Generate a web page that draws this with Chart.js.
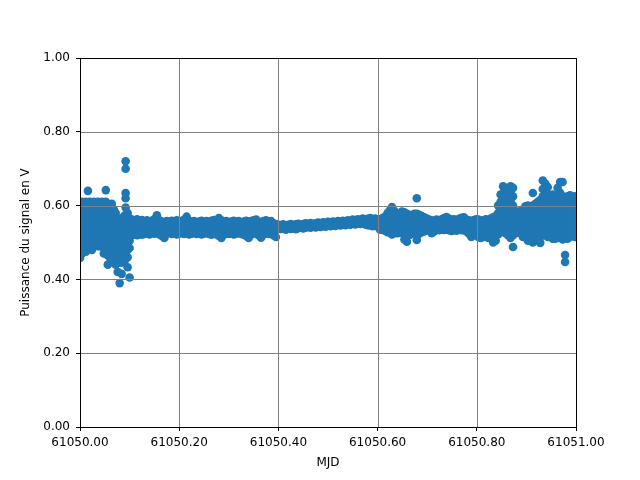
<!DOCTYPE html>
<html>
<head>
<meta charset="utf-8">
<script src="https://cdn.jsdelivr.net/npm/chart.js"></script>
<style>
  body { margin: 0; background: #fff; }
  canvas { display: block; }
</style>
</head>
<body>
<canvas id="signalChart" width="640" height="480"></canvas>
<script>
// MJD de référence, chaque ligne = [fraction de jour, tensions mesurées...]
const mjdStart = 61050;
const xTicks = [61050.0, 61050.2, 61050.4, 61050.6, 61050.8, 61051.0];
const yTicks = [0, 0.2, 0.4, 0.6, 0.8, 1.0];

// début de nuit : signal très dispersé
const burstStart = [
    [0.000, 0.605, 0.585, 0.565, 0.545, 0.525, 0.505, 0.485, 0.465, 0.458],
    [0.004, 0.61, 0.59, 0.57, 0.55, 0.53, 0.51, 0.49, 0.47],
    [0.008, 0.605, 0.585, 0.565, 0.545, 0.525, 0.505, 0.485],
    [0.012, 0.61, 0.59, 0.57, 0.55, 0.53, 0.51, 0.49, 0.475],
    [0.016, 0.64, 0.60, 0.58, 0.56, 0.54, 0.52, 0.50, 0.485],
    [0.020, 0.61, 0.59, 0.57, 0.55, 0.53, 0.51, 0.49],
    [0.024, 0.605, 0.585, 0.565, 0.545, 0.525, 0.505, 0.48],
    [0.028, 0.61, 0.59, 0.57, 0.55, 0.53, 0.51, 0.49],
    [0.032, 0.605, 0.585, 0.565, 0.545, 0.525, 0.505],
    [0.036, 0.61, 0.59, 0.57, 0.55, 0.53, 0.51, 0.49],
    [0.040, 0.605, 0.585, 0.565, 0.545, 0.525, 0.505, 0.49],
    [0.044, 0.61, 0.59, 0.57, 0.55, 0.53, 0.51, 0.49],
    [0.048, 0.605, 0.585, 0.565, 0.545, 0.525, 0.505, 0.485, 0.47],
    [0.052, 0.642, 0.61, 0.59, 0.57, 0.55, 0.53, 0.51, 0.49, 0.47],
    [0.056, 0.605, 0.585, 0.565, 0.545, 0.525, 0.505, 0.485, 0.465, 0.44],
    [0.060, 0.60, 0.58, 0.56, 0.54, 0.52, 0.50, 0.48, 0.46],
    [0.064, 0.605, 0.585, 0.565, 0.545, 0.525, 0.505, 0.485, 0.465],
    [0.068, 0.59, 0.57, 0.55, 0.53, 0.51, 0.49, 0.47, 0.45],
    [0.072, 0.58, 0.56, 0.54, 0.52, 0.50, 0.48, 0.46, 0.44],
    [0.076, 0.565, 0.545, 0.525, 0.505, 0.485, 0.465, 0.445, 0.42],
    [0.080, 0.555, 0.535, 0.515, 0.495, 0.475, 0.455, 0.39],
    [0.084, 0.565, 0.545, 0.525, 0.505, 0.485, 0.465, 0.445, 0.415],
    [0.088, 0.57, 0.55, 0.53, 0.51, 0.49, 0.47, 0.45],
    [0.092, 0.72, 0.70, 0.634, 0.62, 0.595, 0.575, 0.555, 0.535, 0.515, 0.495, 0.475, 0.455],
    [0.096, 0.58, 0.56, 0.54, 0.52, 0.50, 0.48, 0.46, 0.433],
    [0.100, 0.565, 0.545, 0.525, 0.505, 0.485, 0.405]
];

// bande stable du matin
const morningBand = [
    [0.105, 0.562, 0.540, 0.520], [0.110, 0.560, 0.540, 0.522], [0.115, 0.563, 0.542, 0.520],
    [0.120, 0.558, 0.538, 0.524], [0.125, 0.561, 0.541, 0.521], [0.130, 0.557, 0.539, 0.523],
    [0.135, 0.560, 0.540, 0.525], [0.140, 0.556, 0.538, 0.522], [0.145, 0.559, 0.541, 0.526],
    [0.150, 0.563, 0.542, 0.524], [0.155, 0.574, 0.545, 0.527], [0.160, 0.560, 0.540, 0.522],
    [0.165, 0.557, 0.538, 0.518], [0.170, 0.555, 0.537, 0.512], [0.175, 0.558, 0.540, 0.524],
    [0.180, 0.556, 0.539, 0.526], [0.185, 0.559, 0.541, 0.523], [0.190, 0.557, 0.540, 0.525],
    [0.195, 0.560, 0.541, 0.522], [0.200, 0.558, 0.539, 0.524], [0.205, 0.556, 0.538, 0.526],
    [0.210, 0.562, 0.542, 0.523], [0.215, 0.570, 0.545, 0.525], [0.220, 0.559, 0.540, 0.522],
    [0.225, 0.556, 0.538, 0.524], [0.230, 0.558, 0.540, 0.526], [0.235, 0.555, 0.537, 0.523],
    [0.240, 0.557, 0.539, 0.525], [0.245, 0.559, 0.541, 0.522], [0.250, 0.556, 0.538, 0.524],
    [0.255, 0.558, 0.540, 0.526], [0.260, 0.555, 0.538, 0.523], [0.265, 0.559, 0.540, 0.521],
    [0.270, 0.561, 0.541, 0.524], [0.275, 0.557, 0.539, 0.522], [0.280, 0.566, 0.543, 0.518],
    [0.285, 0.560, 0.538, 0.512], [0.290, 0.556, 0.538, 0.521], [0.295, 0.558, 0.540, 0.524],
    [0.300, 0.555, 0.538, 0.523], [0.305, 0.557, 0.539, 0.525], [0.310, 0.559, 0.541, 0.522],
    [0.315, 0.556, 0.538, 0.524], [0.320, 0.558, 0.540, 0.526], [0.325, 0.555, 0.538, 0.523],
    [0.330, 0.557, 0.539, 0.521], [0.335, 0.559, 0.540, 0.518], [0.340, 0.556, 0.537, 0.512],
    [0.345, 0.558, 0.540, 0.521], [0.350, 0.560, 0.541, 0.524], [0.355, 0.562, 0.542, 0.525],
    [0.360, 0.557, 0.539, 0.520], [0.365, 0.555, 0.536, 0.513], [0.370, 0.558, 0.540, 0.522],
    [0.375, 0.560, 0.541, 0.525], [0.380, 0.556, 0.539, 0.523], [0.385, 0.558, 0.540, 0.526],
    [0.390, 0.552, 0.536, 0.520], [0.395, 0.550, 0.534, 0.515], [0.400, 0.548, 0.537]
];

// milieu de journée : bande étroite qui monte lentement
const noonBand = [
    [0.405, 0.547, 0.537], [0.410, 0.549, 0.538], [0.415, 0.545, 0.535], [0.420, 0.548, 0.540],
    [0.425, 0.550, 0.537], [0.430, 0.546, 0.539], [0.435, 0.549, 0.536], [0.440, 0.551, 0.539],
    [0.445, 0.547, 0.541], [0.450, 0.550, 0.538], [0.455, 0.552, 0.540], [0.460, 0.550, 0.542],
    [0.465, 0.553, 0.540], [0.470, 0.549, 0.543], [0.475, 0.552, 0.541], [0.480, 0.554, 0.544],
    [0.485, 0.551, 0.542], [0.490, 0.555, 0.545], [0.495, 0.553, 0.543], [0.500, 0.556, 0.546],
    [0.505, 0.554, 0.544], [0.510, 0.557, 0.547], [0.515, 0.555, 0.545], [0.520, 0.558, 0.548],
    [0.525, 0.556, 0.546], [0.530, 0.559, 0.549], [0.535, 0.557, 0.547], [0.540, 0.560, 0.550],
    [0.545, 0.558, 0.548], [0.550, 0.562, 0.551], [0.555, 0.560, 0.549], [0.560, 0.563, 0.552],
    [0.565, 0.561, 0.550], [0.570, 0.565, 0.552], [0.575, 0.562, 0.549], [0.580, 0.564, 0.547],
    [0.585, 0.566, 0.546], [0.590, 0.562, 0.544], [0.595, 0.565, 0.548], [0.600, 0.563, 0.543]
];

// après-midi : quelques sauts
const afternoonBurst = [
    [0.605, 0.563, 0.545, 0.535],
    [0.610, 0.566, 0.550, 0.534],
    [0.615, 0.570, 0.552, 0.532],
    [0.620, 0.580, 0.560, 0.540, 0.528],
    [0.625, 0.588, 0.568, 0.548, 0.530],
    [0.629, 0.596, 0.575, 0.555, 0.535, 0.522],
    [0.634, 0.585, 0.565, 0.545, 0.528],
    [0.639, 0.575, 0.557, 0.540, 0.525],
    [0.644, 0.578, 0.560, 0.542, 0.526],
    [0.649, 0.584, 0.565, 0.545, 0.528],
    [0.654, 0.582, 0.562, 0.542, 0.522, 0.508],
    [0.659, 0.578, 0.558, 0.538, 0.518, 0.502],
    [0.664, 0.575, 0.556, 0.537, 0.520],
    [0.669, 0.572, 0.555, 0.538, 0.525],
    [0.674, 0.578, 0.558, 0.540, 0.530],
    [0.679, 0.620, 0.578, 0.558, 0.540, 0.520, 0.507],
    [0.684, 0.575, 0.556, 0.538, 0.524],
    [0.689, 0.572, 0.555, 0.540, 0.528],
    [0.694, 0.568, 0.552, 0.538, 0.530],
    [0.699, 0.565, 0.550, 0.536]
];

// soirée
const eveningBand = [
    [0.704, 0.562, 0.548, 0.532], [0.709, 0.560, 0.545, 0.525], [0.714, 0.558, 0.543, 0.530],
    [0.719, 0.562, 0.547, 0.535], [0.724, 0.560, 0.546, 0.533], [0.729, 0.563, 0.548, 0.536],
    [0.734, 0.566, 0.550, 0.534], [0.739, 0.569, 0.551, 0.535], [0.744, 0.565, 0.549, 0.533],
    [0.749, 0.561, 0.546, 0.531], [0.754, 0.563, 0.548, 0.534], [0.759, 0.560, 0.545, 0.532],
    [0.764, 0.564, 0.548, 0.535], [0.769, 0.567, 0.550, 0.533], [0.774, 0.568, 0.551, 0.534],
    [0.779, 0.562, 0.546, 0.530], [0.784, 0.560, 0.544, 0.524], [0.789, 0.558, 0.540, 0.515],
    [0.794, 0.561, 0.545, 0.526], [0.799, 0.563, 0.546, 0.530]
];

// fin de journée : forte dispersion
const lateBurst = [
    [0.803, 0.562, 0.545, 0.528, 0.515],
    [0.808, 0.558, 0.542, 0.525, 0.512],
    [0.813, 0.560, 0.545, 0.530, 0.515],
    [0.818, 0.563, 0.547, 0.532, 0.518],
    [0.823, 0.560, 0.544, 0.528, 0.512],
    [0.828, 0.565, 0.548, 0.530, 0.515],
    [0.833, 0.568, 0.550, 0.532, 0.515, 0.500],
    [0.838, 0.572, 0.555, 0.538, 0.52, 0.505],
    [0.843, 0.60, 0.58, 0.56, 0.54, 0.522],
    [0.848, 0.63, 0.61, 0.59, 0.57, 0.55, 0.53],
    [0.853, 0.652, 0.632, 0.612, 0.592, 0.572, 0.552, 0.532],
    [0.858, 0.645, 0.625, 0.605, 0.585, 0.565, 0.545, 0.525],
    [0.863, 0.64, 0.62, 0.60, 0.58, 0.56, 0.54, 0.52],
    [0.868, 0.652, 0.632, 0.612, 0.592, 0.572, 0.552, 0.532, 0.512],
    [0.873, 0.648, 0.625, 0.60, 0.58, 0.56, 0.54, 0.52, 0.488],
    [0.878, 0.585, 0.565, 0.545, 0.525],
    [0.883, 0.580, 0.562, 0.545, 0.528],
    [0.888, 0.585, 0.565, 0.545, 0.525],
    [0.893, 0.590, 0.570, 0.550, 0.530, 0.515],
    [0.898, 0.598, 0.578, 0.558, 0.538, 0.52],
    [0.903, 0.600, 0.580, 0.560, 0.540, 0.52, 0.505],
    [0.908, 0.595, 0.575, 0.555, 0.535, 0.515],
    [0.913, 0.634, 0.60, 0.58, 0.56, 0.54, 0.52, 0.50],
    [0.918, 0.605, 0.585, 0.565, 0.545, 0.525, 0.505],
    [0.923, 0.610, 0.59, 0.57, 0.55, 0.53, 0.51],
    [0.928, 0.615, 0.595, 0.575, 0.555, 0.535, 0.515, 0.499],
    [0.933, 0.668, 0.645, 0.625, 0.605, 0.585, 0.565, 0.545, 0.525],
    [0.938, 0.660, 0.64, 0.62, 0.60, 0.58, 0.56, 0.54, 0.52],
    [0.943, 0.650, 0.63, 0.61, 0.59, 0.57, 0.55, 0.53, 0.515],
    [0.948, 0.625, 0.605, 0.585, 0.565, 0.545, 0.525],
    [0.953, 0.630, 0.61, 0.59, 0.57, 0.55, 0.53, 0.51],
    [0.958, 0.625, 0.605, 0.585, 0.565, 0.545, 0.525, 0.51],
    [0.963, 0.648, 0.628, 0.608, 0.588, 0.568, 0.548, 0.528, 0.512],
    [0.968, 0.664, 0.635, 0.615, 0.595, 0.575, 0.555, 0.535, 0.515],
    [0.973, 0.664, 0.625, 0.605, 0.585, 0.565, 0.545, 0.525, 0.508],
    [0.978, 0.62, 0.60, 0.58, 0.56, 0.54, 0.52, 0.466, 0.447],
    [0.983, 0.625, 0.605, 0.585, 0.565, 0.545, 0.525, 0.51],
    [0.988, 0.628, 0.608, 0.588, 0.568, 0.548, 0.528, 0.515],
    [0.993, 0.622, 0.602, 0.582, 0.562, 0.542, 0.522],
    [0.998, 0.625, 0.605, 0.585, 0.565, 0.545, 0.525, 0.515]
];

const segments = [burstStart, morningBand, noonBand, afternoonBurst, eveningBand, lateBurst];
const points = [];
segments.forEach(seg => {
    seg.forEach(row => {
        const t = row[0];
        row.slice(1).forEach(v => points.push({ x: mjdStart + t, y: v }));
    });
});

const fontFamily = "'DejaVu Sans', sans-serif";
Chart.defaults.font.family = fontFamily;
Chart.defaults.font.size = 12;
Chart.defaults.color = '#000';

// grille par-dessus les points + cadre complet (comme matplotlib)
const gridOnTop = {
    id: 'gridOnTop',
    afterDatasetsDraw(chart) {
        const { ctx, chartArea: a, scales } = chart;
        ctx.save();
        ctx.strokeStyle = '#808080';
        ctx.lineWidth = 1;
        xTicks.forEach(v => {
            const px = Math.round(scales.x.getPixelForValue(v)) + 0.5;
            ctx.beginPath(); ctx.moveTo(px, a.top); ctx.lineTo(px, a.bottom); ctx.stroke();
        });
        yTicks.forEach(v => {
            const py = Math.round(scales.y.getPixelForValue(v)) + 0.5;
            ctx.beginPath(); ctx.moveTo(a.left, py); ctx.lineTo(a.right, py); ctx.stroke();
        });
        ctx.strokeStyle = '#000';
        ctx.strokeRect(Math.round(a.left) + 0.5, Math.round(a.top) + 0.5,
            Math.round(a.right - a.left), Math.round(a.bottom - a.top));
        ctx.restore();
    }
};

new Chart(document.getElementById('signalChart').getContext('2d'), {
    type: 'scatter',
    data: {
        datasets: [{
            data: points,
            backgroundColor: '#1f77b4',
            borderColor: '#1f77b4',
            borderWidth: 0,
            pointRadius: 4.3,
            pointHoverRadius: 4.3,
            clip: 0
        }]
    },
    options: {
        responsive: false,
        animation: false,
        events: [],
        layout: { padding: { left: 0, top: 58, right: 64, bottom: 0 } },
        plugins: { legend: { display: false }, tooltip: { enabled: false } },
        scales: {
            x: {
                type: 'linear',
                min: 61050,
                max: 61051,
                afterFit: s => { s.height = 53; },
                afterBuildTicks: s => { s.ticks = xTicks.map(v => ({ value: v })); },
                ticks: {
                    autoSkip: false,
                    maxRotation: 0,
                    padding: 5,
                    callback: v => Number(v).toFixed(2)
                },
                grid: { drawOnChartArea: false, drawTicks: true, tickLength: 4, tickColor: '#000' },
                border: { display: true, color: '#000' },
                title: { display: true, text: 'MJD', padding: { top: 0, bottom: 10 } }
            },
            y: {
                min: 0,
                max: 1,
                afterFit: s => { s.width = 80; },
                afterBuildTicks: s => { s.ticks = yTicks.map(v => ({ value: v })); },
                ticks: {
                    padding: 6,
                    callback: v => Number(v).toFixed(2)
                },
                grid: { drawOnChartArea: false, drawTicks: true, tickLength: 4, tickColor: '#000' },
                border: { display: true, color: '#000' },
                title: { display: true, text: 'Puissance du signal en V', padding: { top: 19, bottom: 0 } }
            }
        }
    },
    plugins: [gridOnTop]
});
</script>
</body>
</html>
